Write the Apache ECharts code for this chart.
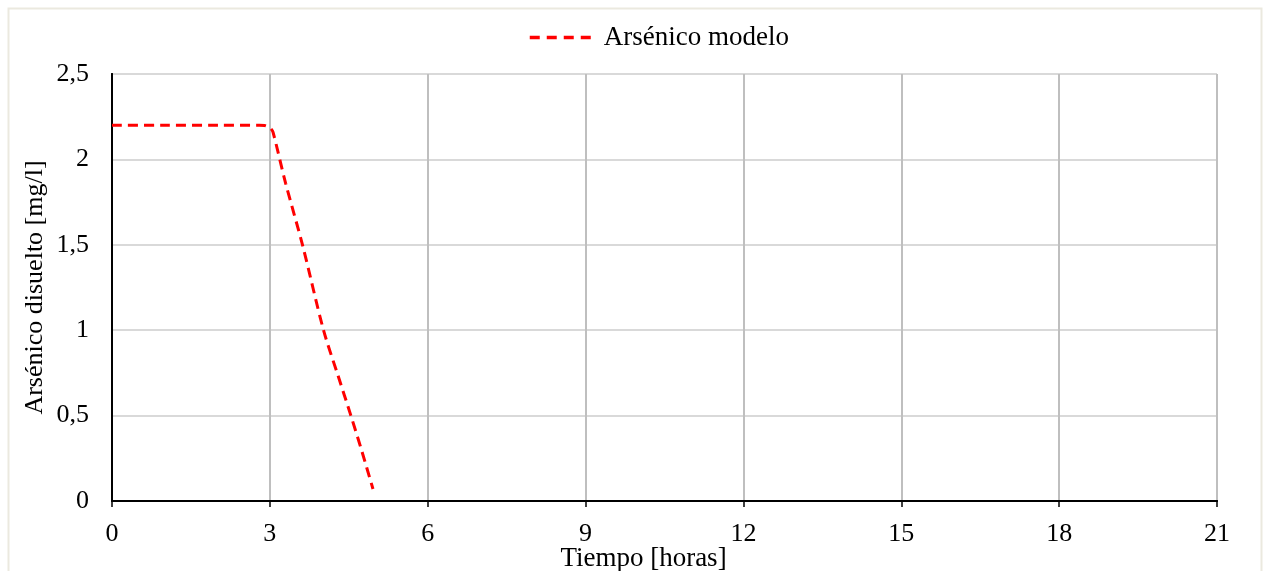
<!DOCTYPE html>
<html>
<head>
<meta charset="utf-8">
<title>Arsénico modelo</title>
<script src="https://cdn.jsdelivr.net/npm/echarts@6/dist/echarts.min.js"></script>
<style>
  html, body { margin: 0; padding: 0; background: #fff; }
  #container { width: 1264px; height: 571px; }
</style>
</head>
<body>
<div id="container"></div>
<script>
// datos
const tiempoHoras = [0, 1, 2, 2.8, 2.9, 2.97, 3.02, 3.06, 3.3, 3.62, 4.02, 4.3, 4.54, 4.75, 4.96];
const arsenicoModelo = [2.2, 2.2, 2.2, 2.2, 2.198, 2.19, 2.18, 2.16, 1.86, 1.5, 1.0, 0.73, 0.5, 0.29, 0.07];
const ejeXTicks = [0, 3, 6, 9, 12, 15, 18, 21];

const fuente = '"Liberation Serif", "Times New Roman", serif';
const tam = 26;
const chart = echarts.init(document.getElementById('container'), null, { renderer: 'canvas' });

chart.setOption({
  backgroundColor: '#fff',
  animation: false,
  textStyle: { fontFamily: fuente, color: '#000' },
  graphic: [{
    type: 'rect',
    shape: { x: 8.5, y: 8.5, width: 1253, height: 580 },
    style: { fill: 'none', stroke: '#ebe9df', lineWidth: 2 },
    silent: true
  }],
  legend: {
    top: 19,
    left: 523,
    itemWidth: 67,
    itemHeight: 14,
    itemGap: 4,
    itemStyle: { opacity: 0 },
    lineStyle: { width: 3.5, color: '#ff0000', type: [10, 7] },
    textStyle: { fontFamily: fuente, fontSize: 27, color: '#000', padding: [0, 0, 0, 2] },
    data: ['Arsénico modelo']
  },
  grid: { left: 112, right: 47, top: 74, bottom: 70, outerBoundsMode: 'none', containLabel: false },
  xAxis: [{
    type: 'value',
    min: 0, max: 21, interval: 3,
    name: 'Tiempo [horas]',
    nameLocation: 'middle',
    nameGap: 44,
    nameMoveOverlap: false,
    nameTextStyle: { fontFamily: fuente, fontSize: 27, color: '#000', padding: [0, 42, 0, 0] },
    axisLine: { lineStyle: { color: '#000', width: 2 } },
    axisTick: { show: true, length: 6, lineStyle: { color: '#000', width: 1.5 } },
    axisLabel: { fontFamily: fuente, fontSize: tam, color: '#000', margin: 20,
      formatter: v => ejeXTicks.includes(v) ? String(v) : '' },
    splitLine: { show: true, lineStyle: { color: '#bfbfbf', width: 2 } }
  }, {
    type: 'value',
    position: 'top',
    min: 0, max: 21, interval: 3,
    axisLine: { show: true, lineStyle: { color: '#000', width: 2 } },
    axisTick: { show: false },
    axisLabel: { show: false },
    splitLine: { show: false }
  }],
  yAxis: [{
    type: 'value',
    min: 0, max: 2.5, interval: 0.5,
    name: 'Arsénico disuelto [mg/l]',
    nameLocation: 'middle',
    nameGap: 64,
    nameMoveOverlap: false,
    nameTextStyle: { fontFamily: fuente, fontSize: tam, color: '#000' },
    axisLine: { show: true, lineStyle: { color: '#000', width: 2 } },
    axisTick: { show: false },
    axisLabel: { fontFamily: fuente, fontSize: tam, color: '#000', margin: 23,
      formatter: v => String(v).replace('.', ',') },
    splitLine: { show: true, lineStyle: { color: '#d9d9d9', width: 2 } }
  }, {
    type: 'value',
    position: 'right',
    min: 0, max: 2.5, interval: 0.5,
    axisLine: { show: true, lineStyle: { color: '#000', width: 2 } },
    axisTick: { show: false },
    axisLabel: { show: false },
    splitLine: { show: false }
  }],
  series: [{
    name: 'Arsénico modelo',
    type: 'line',
    data: tiempoHoras.map((t, i) => [t, arsenicoModelo[i]]),
    showSymbol: false,
    symbol: 'none',
    smooth: 0.3,
    lineStyle: { color: '#ff0000', width: 3, type: [10, 6] },
    itemStyle: { color: '#ff0000' }
  }]
});

window.addEventListener('resize', () => chart.resize());
</script>
</body>
</html>
